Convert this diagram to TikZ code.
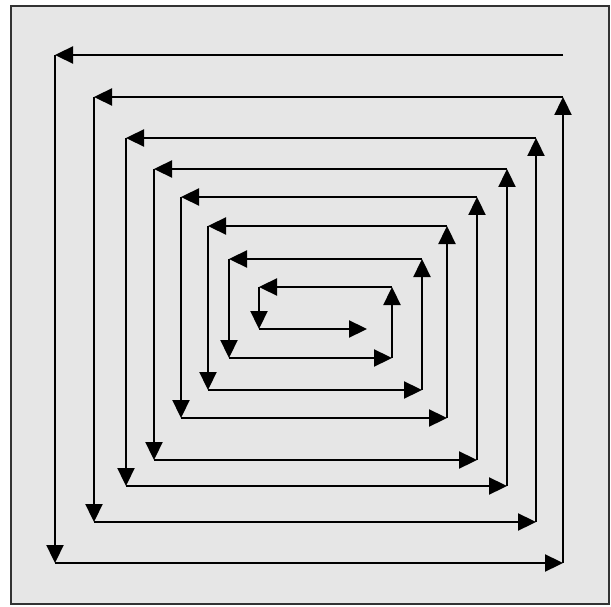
\documentclass[tikz,border=0pt]{standalone}
\usetikzlibrary{arrows.meta}
\definecolor{panel}{HTML}{E6E6E6}
\definecolor{frame}{HTML}{333333}
\tikzset{
  seg/.style={line width=2.3pt, draw=black, -{Triangle[length=18pt,width=17pt]}},
  panelbox/.style={fill=panel, draw=frame, line width=2pt}
}
\begin{document}
\begin{tikzpicture}[x=1pt,y=-1pt]
\useasboundingbox (0,0) rectangle (611,607);
\fill[white] (0,0) rectangle (611,607);
\draw[panelbox] (11,6) rectangle (609,604);
% corners of the spiral
\coordinate (p0) at (563,55);
\coordinate (p1) at (55,55);
\coordinate (p2) at (55,563);
\coordinate (p3) at (563,563);
\coordinate (p4) at (563,97);
\coordinate (p5) at (94,97);
\coordinate (p6) at (94,522);
\coordinate (p7) at (536,522);
\coordinate (p8) at (536,138);
\coordinate (p9) at (126,138);
\coordinate (p10) at (126,486);
\coordinate (p11) at (507,486);
\coordinate (p12) at (507,169);
\coordinate (p13) at (154,169);
\coordinate (p14) at (154,460);
\coordinate (p15) at (477,460);
\coordinate (p16) at (477,197);
\coordinate (p17) at (181,197);
\coordinate (p18) at (181,418);
\coordinate (p19) at (447,418);
\coordinate (p20) at (447,226);
\coordinate (p21) at (208,226);
\coordinate (p22) at (208,390);
\coordinate (p23) at (422,390);
\coordinate (p24) at (422,259);
\coordinate (p25) at (229,259);
\coordinate (p26) at (229,358);
\coordinate (p27) at (392,358);
\coordinate (p28) at (392,287);
\coordinate (p29) at (259,287);
\coordinate (p30) at (259,329);
\coordinate (p31) at (367,329);
\foreach \i [evaluate=\i as \j using int(\i+1)] in {0,...,30}{
  \draw[seg] (p\i) -- (p\j);
}
\end{tikzpicture}
\end{document}
